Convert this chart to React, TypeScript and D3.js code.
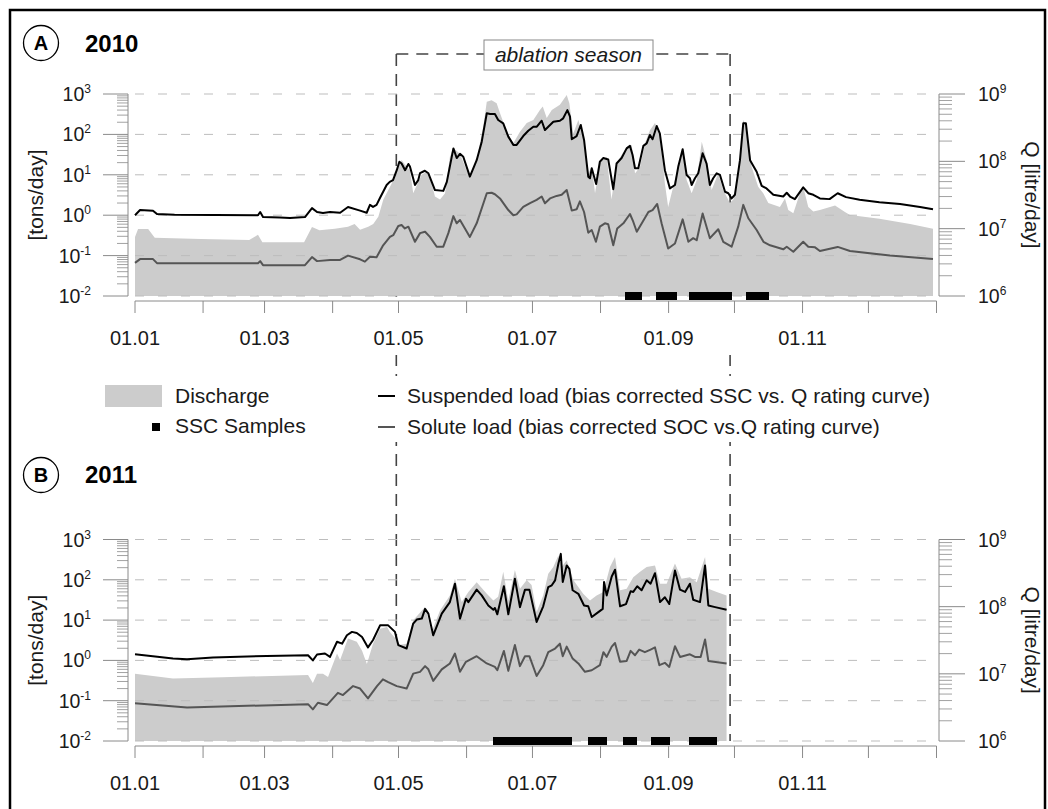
import React from 'react';
import * as d3 from 'd3';

type P = [number, number];

const monthStarts = [0, 31, 59, 90, 120, 151, 181, 212, 243, 273, 304, 334, 365];
const labelDays = [0, 59, 120, 181, 243, 304];
const monthLabels = ['01.01', '01.03', '01.05', '01.07', '01.09', '01.11'];
const leftTicks = [1e-2, 1e-1, 1e0, 1e1, 1e2, 1e3];
const leftExp = ['-2', '-1', '0', '1', '2', '3'];
const rightTicks = [1e6, 1e7, 1e8, 1e9];
const rightExp = ['6', '7', '8', '9'];
const ablationStart = 119;
const ablationEnd = 271;

const discharge2010: P[] = [[0,7.5e6],[1.4,9.9e6],[6,9.9e6],[9,7.3e6],[30,7.0e6],[52,6.8e6],[56,8.1e6],[58,6.3e6],[77,6.3e6],[80.6,1.06e7],[84,9.5e6],[91,1.0e7],[97,1.07e7],[100,1.17e7],[102.5,9.6e6],[106.2,1.07e7],[108.5,1.17e7],[110.8,1.5e7],[113.1,2.7e7],[116.9,4.7e7],[119.9,8.3e7],[121.4,1.05e8],[123.7,8.3e7],[125.2,7.4e7],[126.7,3.35e7],[128.3,4.4e7],[130.5,6.3e7],[132.8,7.0e7],[135.1,4.7e7],[136.6,3.0e7],[138.9,2.7e7],[141.2,3.35e7],[143.4,1.17e8],[145,1.56e8],[148,1.3e8],[151,7.4e7],[152.5,5.6e7],[155.6,1.05e8],[158.6,3.3e8],[160.2,7.7e8],[162.4,8.1e8],[164.7,7.3e8],[166.2,5.2e8],[169.3,2.75e8],[172.3,1.85e8],[175.3,2.75e8],[178.4,3.7e8],[181.4,4.1e8],[184.4,5.8e8],[185.7,6.5e8],[187.5,4.4e8],[189.8,5.8e8],[193.5,6.9e8],[196.6,9.7e8],[197.8,7.3e8],[199.6,2.6e8],[201.9,4.1e8],[204.1,2.3e8],[206.4,6.6e7],[208,8.3e7],[209.5,3.35e7],[211.7,9.4e7],[214.8,1.17e8],[217,2.7e7],[219.3,9.4e7],[223.9,1.65e8],[226.2,1.75e8],[227.7,6.6e7],[230,8.3e7],[232.2,1.85e8],[234.5,2.9e8],[236.8,3.7e8],[239.1,2.5e8],[241.3,4.7e7],[242.8,2.1e7],[245.1,4.2e7],[247.4,8.3e7],[249.4,1.56e8],[251.2,5.3e7],[253.5,3.35e7],[255.8,5.3e7],[258.1,1.95e8],[260.3,1.05e8],[262.6,3.75e7],[265.6,6.6e7],[267.9,3.75e7],[270.9,2.4e7],[272.5,2.7e7],[275.5,1.05e8],[277,4.1e8],[278.5,3.3e8],[280.8,8.3e7],[283.8,4.2e7],[286.1,3.35e7],[288.4,2.4e7],[293.7,2.1e7],[296,2.8e7],[297.5,1.9e7],[299.8,1.7e7],[302.8,3.35e7],[304.3,4.2e7],[306.6,2.1e7],[308.9,1.8e7],[311.9,1.9e7],[318.8,2.2e7],[323.3,1.77e7],[325.6,1.6e7],[339,1.4e7],[353,1.17e7],[363.4,1.0e7]];

const suspended2010: P[] = [[0,1.0],[2.3,1.34],[8.2,1.29],[10,1.07],[18,1.02],[56,1.0],[57,1.2],[58.3,0.9],[66,0.88],[70.6,0.85],[77.4,0.9],[80.6,1.5],[82.9,1.2],[85.6,1.13],[88.8,1.2],[93.4,1.15],[97,1.6],[102.5,1.3],[105.5,1.15],[107,1.8],[108.4,1.6],[110,1.8],[111.6,2.7],[114.6,5.6],[116,6.7],[117.5,7.4],[119.2,13],[120.4,21],[121.4,19],[123,13],[124.5,18.5],[125.2,16],[127.5,5.6],[129,7.4],[129.8,11],[132,12.6],[133.6,10.9],[136.6,4.2],[140.4,4.0],[142,6.7],[145,45],[146.5,26],[148,33],[149.5,28],[152.5,9],[155.6,23],[157.9,66],[160.2,333],[161.7,320],[163.9,320],[165.4,227],[167.7,188],[170,88],[172.3,55],[173.8,55],[176.8,91],[179.1,123],[181.4,155],[183,155],[185.2,218],[186.7,128],[188.2,155],[190.5,206],[193.5,218],[195,250],[196.9,400],[198.1,274],[198.9,76],[201.1,91],[203,171],[204.5,73],[206.4,9],[207.2,8.2],[208,14.5],[210,5.9],[211.7,21],[213.3,26],[215.5,24],[217.8,4.4],[219.3,19],[221.6,26],[223.9,45],[225.4,52],[226.6,31],[227.7,14.5],[229.2,14.5],[231.5,52],[233,60],[234.5,97],[235.7,76],[237.6,161],[239,106],[241.3,13],[243.6,4.6],[245.9,5.6],[247.4,16],[249.4,43],[251.2,9.9],[252.7,8.2],[253.5,5.6],[255,8.2],[256.5,10.9],[258.5,34],[260.3,19],[261.8,5.6],[263.3,8.2],[264.9,10.9],[266.4,9.9],[268.7,3.8],[270.2,3.5],[271.7,2.6],[273.2,3.2],[275.5,23],[277,188],[278.2,188],[280.1,23],[283.1,11.9],[285.4,5.3],[287.6,4.6],[290.7,3.2],[295.2,2.9],[296.8,3.6],[298.3,2.9],[300.5,2.5],[304.3,4.9],[306.6,3.5],[308.9,3.2],[311.9,2.6],[316.3,2.5],[320,3.5],[323.8,2.8],[330,2.4],[339,2.1],[348.4,1.9],[357.5,1.6],[363.4,1.4]];

const solute2010: P[] = [[0,0.066],[2.3,0.082],[8.2,0.082],[10,0.065],[56,0.065],[57,0.073],[58.3,0.058],[77.4,0.058],[80.6,0.092],[82.9,0.073],[88.8,0.078],[93.4,0.078],[97,0.10],[102.5,0.081],[104.7,0.071],[107,0.094],[110,0.091],[113,0.18],[116.1,0.29],[117.6,0.32],[119.9,0.54],[121.4,0.57],[122.9,0.47],[124.5,0.52],[127.5,0.22],[129.8,0.36],[132.1,0.39],[134.3,0.29],[137.4,0.166],[140.4,0.166],[142.7,0.36],[145,0.95],[146.5,0.63],[148,0.76],[152.5,0.29],[155.6,0.63],[160.2,3.5],[162.4,3.6],[163.9,3.3],[166.2,2.6],[170,1.34],[172.3,1.0],[173.8,1.05],[176.8,1.6],[179.9,2.0],[182.9,2.4],[185.2,2.9],[186.7,1.97],[189,2.6],[192,3.0],[194.3,3.2],[196.6,4.2],[198.9,1.3],[201.1,1.4],[202.6,2.2],[204.5,1.2],[206.4,0.37],[208,0.43],[209.9,0.22],[211.7,0.52],[214,0.63],[215.5,0.6],[217.8,0.18],[219.6,0.47],[222.4,0.63],[225.4,1.07],[226.9,0.69],[228.5,0.39],[231.2,0.69],[233.8,1.2],[235.7,1.34],[237.8,1.9],[239.8,0.63],[242.8,0.15],[245.9,0.2],[249.4,0.79],[252,0.22],[254.2,0.27],[255.8,0.24],[258.5,1.1],[261.8,0.27],[265.6,0.45],[267.9,0.22],[271.7,0.166],[274.7,0.52],[277,1.8],[279.3,0.84],[283.1,0.43],[286.2,0.22],[289.2,0.18],[295.2,0.143],[296.8,0.166],[299.8,0.125],[304.3,0.22],[306.6,0.166],[309.7,0.16],[311.9,0.13],[320,0.164],[325.6,0.13],[343.8,0.10],[363.4,0.082]];

const samples2010 = [225,226,227,228,229,239,240,241,242,243,244,245,254,255,256,257,258,259,260,261,262,263,264,265,266,267,268,269,270,280,281,282,283,284,285,286,287];

const discharge2011: P[] = [[0,1.0e7],[17.3,8.5e6],[40,8.9e6],[78.8,9.6e6],[81,7.3e6],[82.9,1.0e7],[85.6,1.0e7],[87.9,9.0e6],[92,2.0e7],[93.4,1.6e7],[97,3.35e7],[101,3.0e7],[103.4,2.2e7],[105.6,1.4e7],[108.4,2.8e7],[111.6,4.7e7],[114.8,5.0e7],[116.1,4.2e7],[119.2,3.2e7],[120.7,2.7e7],[123.7,2.8e7],[126.7,6.3e7],[132.1,9.9e7],[135.1,4.2e7],[138.9,8.8e7],[143.4,1.47e8],[145.7,2.6e8],[148.8,1.17e8],[151.8,1.65e8],[155.6,2.3e8],[160.2,1.56e8],[163.2,1.24e8],[165.4,1.4e8],[167.7,3.3e8],[170,1.24e8],[173,3.5e8],[175.3,1.85e8],[178.4,2.5e8],[180.6,2.1e8],[182.9,8.3e7],[185.9,1.47e8],[188.2,3.1e8],[190.5,3.9e8],[192.8,5.8e8],[194.3,3.9e8],[196.6,4.9e8],[199.6,2.5e8],[204.1,1.56e8],[207.2,1.24e8],[210.2,1.47e8],[213.3,1.65e8],[216.3,3.9e8],[218.6,5.5e8],[220.9,1.75e8],[223.9,1.85e8],[226.9,2.75e8],[230,3.3e8],[233,3.9e8],[236.8,4.1e8],[239.1,2.2e8],[242.1,2.2e8],[245.9,4.4e8],[248.9,2.6e8],[252.7,2.75e8],[255.8,2.3e8],[259.6,5.5e8],[261.1,1.85e8],[264.9,1.65e8],[269.4,1.47e8]];

const suspended2011: P[] = [[0,1.42],[17.3,1.11],[23.7,1.07],[35.5,1.18],[60,1.29],[78.8,1.34],[81,1.0],[82.9,1.4],[86.5,1.48],[88.8,1.22],[92,2.9],[94.3,2.6],[96.5,4.2],[98.8,5.1],[101,4.8],[103.4,3.8],[106.1,2.1],[108.4,3.2],[111.6,7.4],[115.3,7.4],[118.4,5.1],[119.9,2.4],[123.7,1.97],[126.7,8.2],[128.3,10.3],[130.6,10.9],[132.1,19],[133.6,14.5],[135.8,4.2],[139.7,14.5],[143.4,28],[145.7,80],[148,10.9],[150.7,34],[151.8,28],[155.6,57],[157.9,41],[160.9,23],[163.2,18],[163.9,20],[165,13.9],[168,69],[170,13.9],[173,106],[175.3,21],[177.6,57],[179.6,57],[182.9,9.0],[185.9,22],[188.2,66],[189.8,73],[191.3,97],[192.8,250],[193.9,440],[194.8,88],[196.6,227],[197.8,188],[199.3,55],[201.9,45],[204.5,23],[206.4,22],[208,11.9],[211,15.8],[213,19],[213.6,88],[214.8,41],[217.1,121],[218.6,178],[220.9,22],[223.6,25],[225.7,52],[226.9,50],[228.7,69],[230.7,55],[233,97],[234.8,80],[236.8,146],[239.1,28],[241.3,37],[243.3,25],[245.9,171],[248.2,57],[250.5,50],[252.7,80],[254.2,32],[257.3,28],[259.6,227],[261.1,23],[264.2,21],[269.4,18]];

const solute2011: P[] = [[0,0.086],[23.7,0.068],[78.8,0.082],[81,0.061],[83.3,0.089],[87.4,0.078],[92.4,0.157],[94.7,0.138],[99.3,0.23],[102.5,0.2],[106.1,0.114],[110.2,0.23],[112.9,0.34],[115.3,0.29],[119.2,0.23],[123.7,0.2],[126.7,0.47],[129.8,0.52],[132.1,0.72],[133.6,0.6],[135.8,0.31],[139.7,0.6],[143.4,0.84],[145.7,1.48],[148,0.52],[150.7,0.92],[155.6,1.27],[160.2,0.84],[163.9,0.69],[165,0.57],[168,1.72],[170,0.55],[173,2.4],[175.3,0.72],[177.6,1.27],[179.6,1.27],[182.9,0.41],[185.9,0.76],[188.2,1.6],[191.3,1.97],[193.5,2.6],[194.8,1.27],[196.6,2.2],[199.3,1.11],[201.9,0.84],[204.9,0.52],[208,0.57],[211.7,0.76],[213.3,1.6],[214.8,1.22],[217.1,2.2],[218.6,2.7],[220.9,0.92],[223.9,0.97],[225.7,1.72],[227.7,1.34],[229.6,1.86],[232.2,1.6],[234.8,1.86],[236.8,2.1],[238.8,0.76],[241.3,0.87],[243.3,0.69],[245.9,2.25],[248.2,1.22],[252.7,1.42],[255,1.22],[257.6,1.22],[259.6,3.3],[261.1,0.97],[269.4,0.84]];

const samples2011 = [165,166,167,168,169,170,171,172,173,174,175,176,177,178,179,180,181,182,183,184,185,186,187,188,189,190,191,192,193,194,195,196,197,208,209,210,211,212,213,224,225,226,227,237,238,239,240,241,242,254,255,256,257,258,260,261,262,263];

const FONT = "'Liberation Sans', Arial, Helvetica, sans-serif";
const AXIS = '#8a8a8a';
const TXT = '#1a1a1a';

const x = d3.scaleLinear().domain([0, 365]).range([135, 936.5]);

function Exp({ x0, y0, exp, anchor }: { x0: number; y0: number; exp: string; anchor: 'start' | 'end' }) {
  return (
    <text x={x0} y={y0 + 7} fontFamily={FONT} fontSize={19.5} fill={TXT} textAnchor={anchor}>
      <tspan>10</tspan>
      <tspan dy={-8} fontSize={12}>{exp}</tspan>
    </text>
  );
}

function Panel({ top, bottom, q, ssl, sol, samples }: { top: number; bottom: number; q: P[]; ssl: P[]; sol: P[]; samples: number[] }) {
  const yL = d3.scaleLog().domain([1e-2, 1e3]).range([bottom, top]);
  const yR = d3.scaleLog().domain([1e6, 1e9]).range([bottom, top]);
  const area = d3.area<P>().x(d => x(d[0])).y0(bottom).y1(d => yR(d[1]));
  const lineL = d3.line<P>().x(d => x(d[0])).y(d => yL(d[1]));
  const minorL: number[] = [];
  for (let e = -2; e < 3; e++) for (let m = 2; m <= 9; m++) minorL.push(m * Math.pow(10, e));
  const minorR: number[] = [];
  for (let e = 6; e < 9; e++) for (let m = 2; m <= 9; m++) minorR.push(m * Math.pow(10, e));
  const axY = bottom + 5;
  return (
    <g>
      <rect x={100} y={bottom + 1} width={850} height={58} fill="#fff" />
      <path d={area(q) || ''} fill="#cccccc" stroke="none" />
      {leftTicks.map((t, i) => (
        <line key={'g' + i} x1={135} x2={933} y1={yL(t)} y2={yL(t)} stroke="#bdbdbd" strokeWidth={1} strokeDasharray="9,14" />
      ))}
      <path d={lineL(sol) || ''} fill="none" stroke="#555555" strokeWidth={2} strokeLinejoin="round" />
      <path d={lineL(ssl) || ''} fill="none" stroke="#000000" strokeWidth={2} strokeLinejoin="round" />
      <g shapeRendering="crispEdges">
        {samples.map((s, i) => (
          <rect key={'s' + i} x={x(s) - 4} y={bottom - 4.5} width={8} height={8} fill="#000" />
        ))}
      </g>
      <line x1={128} x2={128} y1={top} y2={bottom} stroke={AXIS} strokeWidth={1} />
      {leftTicks.map((t, i) => (
        <g key={'lt' + i}>
          <line x1={103} x2={128} y1={yL(t)} y2={yL(t)} stroke={AXIS} strokeWidth={1} />
          <Exp x0={91} y0={yL(t)} exp={leftExp[i]} anchor="end" />
        </g>
      ))}
      {minorL.map((t, i) => (
        <line key={'lm' + i} x1={117} x2={128} y1={yL(t)} y2={yL(t)} stroke={AXIS} strokeWidth={0.8} />
      ))}
      <line x1={939} x2={939} y1={top} y2={bottom} stroke={AXIS} strokeWidth={1} />
      {rightTicks.map((t, i) => (
        <g key={'rt' + i}>
          <line x1={939} x2={965} y1={yR(t)} y2={yR(t)} stroke={AXIS} strokeWidth={1} />
          <Exp x0={978} y0={yR(t)} exp={rightExp[i]} anchor="start" />
        </g>
      ))}
      {minorR.map((t, i) => (
        <line key={'rm' + i} x1={939} x2={952} y1={yR(t)} y2={yR(t)} stroke={AXIS} strokeWidth={0.8} />
      ))}
      <line x1={x(0)} x2={x(365)} y1={axY} y2={axY} stroke={AXIS} strokeWidth={1} />
      {monthStarts.map((d, i) => (
        <line key={'xt' + i} x1={x(d)} x2={x(d)} y1={axY} y2={axY + 12} stroke={AXIS} strokeWidth={1} />
      ))}
      {labelDays.map((d, i) => (
        <text key={'xl' + i} x={x(d)} y={bottom + 49} textAnchor="middle" fontFamily={FONT} fontSize={20} fill={TXT}>{monthLabels[i]}</text>
      ))}
      <text transform={`translate(35,${(top + bottom) / 2}) rotate(-90)`} textAnchor="middle" dominantBaseline="central" fontFamily={FONT} fontSize={21} fill={TXT}>[tons/day]</text>
      <text transform={`translate(1032,${(top + bottom) / 2}) rotate(90)`} textAnchor="middle" dominantBaseline="central" fontFamily={FONT} fontSize={21} fill={TXT}>Q [litre/day]</text>
    </g>
  );
}

export default function App() {
  const xa = x(ablationStart);
  const xb = x(ablationEnd);
  return (
    <svg width={1048} height={809} style={{ position: 'absolute', left: 0, top: 0, background: '#fff' }}>
      <rect x={0} y={0} width={1048} height={809} fill="#fff" />
      <g stroke="#444" strokeWidth={1.6} strokeDasharray="12,8" fill="none">
        <line x1={xa} x2={xa} y1={54} y2={741} />
        <line x1={xb} x2={xb} y1={54} y2={741} />
        <line x1={xa} x2={xb} y1={54} y2={54} />
      </g>
      <rect x={484} y={40} width={169} height={30} fill="#fff" stroke="#888" strokeWidth={1} />
      <text x={568.5} y={62} textAnchor="middle" fontFamily={FONT} fontSize={21} fontStyle="italic" fill={TXT}>ablation season</text>

      <Panel top={94} bottom={296} q={discharge2010} ssl={suspended2010} sol={solute2010} samples={samples2010} />
      <Panel top={539.5} bottom={741} q={discharge2011} ssl={suspended2011} sol={solute2011} samples={samples2011} />

      <circle cx={41} cy={43} r={17.5} fill="none" stroke="#000" strokeWidth={1.3} />
      <text x={41} y={50} textAnchor="middle" fontFamily={FONT} fontSize={20} fontWeight="bold" fill="#000">A</text>
      <text x={85} y={52} fontFamily={FONT} fontSize={24} fontWeight="bold" fill="#000">2010</text>
      <circle cx={41} cy={475} r={17.5} fill="none" stroke="#000" strokeWidth={1.3} />
      <text x={41} y={482} textAnchor="middle" fontFamily={FONT} fontSize={20} fontWeight="bold" fill="#000">B</text>
      <text x={85} y={483} fontFamily={FONT} fontSize={24} fontWeight="bold" fill="#000">2011</text>

      <rect x={95} y={376} width={870} height={66} fill="#fff" />
      <rect x={105} y={385} width={57} height={22} fill="#cccccc" />
      <text x={175} y={403} fontFamily={FONT} fontSize={21} fill={TXT}>Discharge</text>
      <rect x={152} y={423} width={8} height={8} fill="#000" />
      <text x={175} y={433} fontFamily={FONT} fontSize={21} fill={TXT}>SSC Samples</text>
      <line x1={378} x2={395} y1={396} y2={396} stroke="#000" strokeWidth={2} />
      <text x={407} y={403} fontFamily={FONT} fontSize={21} fill={TXT}>Suspended load (bias corrected SSC vs. Q rating curve)</text>
      <line x1={378} x2={395} y1={427} y2={427} stroke="#555" strokeWidth={2} />
      <text x={407} y={434} fontFamily={FONT} fontSize={21} fill={TXT}>Solute load (bias corrected SOC vs.Q rating curve)</text>

      <rect x={10} y={10} width={1035} height={830} fill="none" stroke="#000" strokeWidth={2.5} />
    </svg>
  );
}
